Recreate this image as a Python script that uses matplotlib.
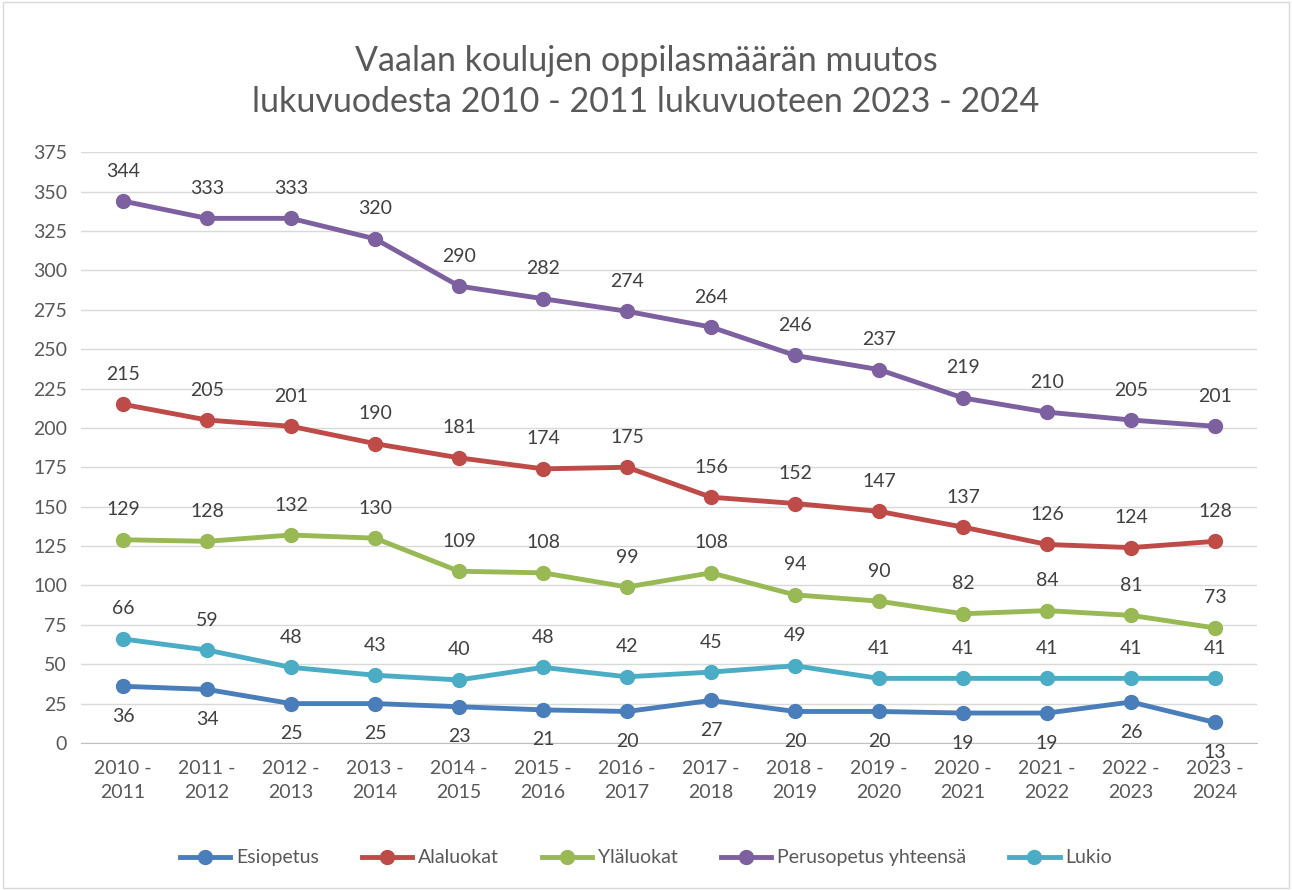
import matplotlib
matplotlib.use("Agg")
import matplotlib.pyplot as plt
from matplotlib.patches import Rectangle

years = ["2010 -\n2011", "2011 -\n2012", "2012 -\n2013", "2013 -\n2014", "2014 -\n2015",
         "2015 -\n2016", "2016 -\n2017", "2017 -\n2018", "2018 -\n2019", "2019 -\n2020",
         "2020 -\n2021", "2021 -\n2022", "2022 -\n2023", "2023 -\n2024"]
esiopetus = [36, 34, 25, 25, 23, 21, 20, 27, 20, 20, 19, 19, 26, 13]
alaluokat = [215, 205, 201, 190, 181, 174, 175, 156, 152, 147, 137, 126, 124, 128]
ylaluokat = [129, 128, 132, 130, 109, 108, 99, 108, 94, 90, 82, 84, 81, 73]
perusopetus = [344, 333, 333, 320, 290, 282, 274, 264, 246, 237, 219, 210, 205, 201]
lukio = [66, 59, 48, 43, 40, 48, 42, 45, 49, 41, 41, 41, 41, 41]

plt.rcParams['font.family'] = ['Lato', 'DejaVu Sans']

fig = plt.figure(figsize=(12.92, 8.90), dpi=100)
ax = fig.add_axes([0.0627, 0.1652, 0.9103, 0.6638])

series = [
    ("Esiopetus", esiopetus, "#4a7ebb", -1),
    ("Alaluokat", alaluokat, "#be4b48", 1),
    ("Yläluokat", ylaluokat, "#98b954", 1),
    ("Perusopetus yhteensä", perusopetus, "#7d60a0", 1),
    ("Lukio", lukio, "#4bacc6", 1),
]
x = list(range(len(years)))
for name, vals, col, pos in series:
    ax.plot(x, vals, color=col, lw=3.5, marker='o', ms=10, label=name, zorder=3)
    for xi, v in zip(x, vals):
        ax.annotate(str(v), (xi, v), xytext=(0, 30 * pos), textcoords='offset pixels',
                    ha='center', va='center', fontsize=14, color='#404040')

ax.set_xlim(-0.5, len(years) - 0.5)
ax.set_ylim(0, 375)
ax.set_yticks(range(0, 376, 25))
ax.set_xticks(x)
ax.set_xticklabels(years, fontsize=14, color='#595959', linespacing=1.5)
ax.tick_params(axis='y', labelsize=14, labelcolor='#595959', length=0, pad=10)
ax.tick_params(axis='x', length=0, pad=12)
ax.grid(axis='y', color='#d9d9d9', lw=1)
ax.set_axisbelow(True)
for s in ['top', 'right', 'left']:
    ax.spines[s].set_visible(False)
ax.spines['bottom'].set_color('#bfbfbf')

fig.text(0.5, 0.908, "Vaalan koulujen oppilasmäärän muutos\nlukuvuodesta 2010 - 2011 lukuvuoteen 2023 - 2024",
         ha='center', va='center', fontsize=24.5, color='#595959', linespacing=1.35)

leg = fig.legend(loc='center', bbox_to_anchor=(0.5, 0.036), ncol=5, frameon=False,
                 fontsize=14, handlelength=2.6, columnspacing=2.2, handletextpad=0.3)
for t in leg.get_texts():
    t.set_color('#595959')

fig.patches.append(Rectangle((0.002, 0.002), 0.996, 0.996, transform=fig.transFigure,
                             fill=False, edgecolor='#d9d9d9', lw=1))

fig.savefig("out.png", dpi=100, facecolor='white')
